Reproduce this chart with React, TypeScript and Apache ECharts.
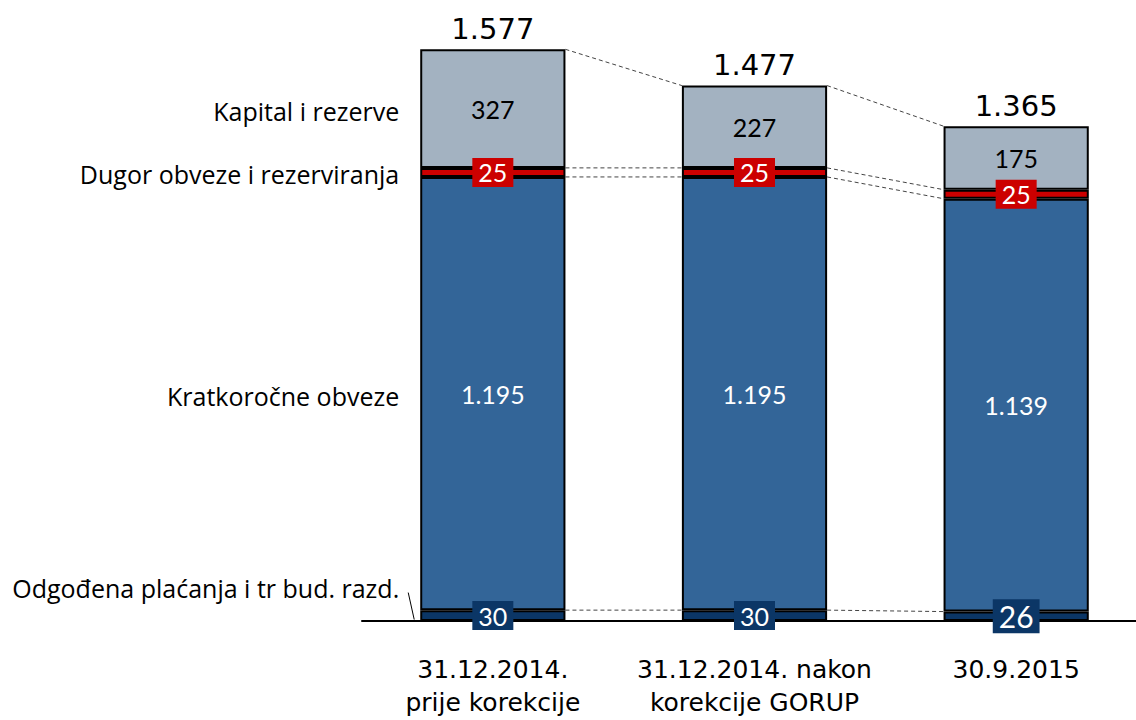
import React, { useEffect, useRef } from "react";
import * as echarts from "echarts";

const categories = ["31.12.2014.\nprije korekcije", "31.12.2014. nakon\nkorekcije GORUP", "30.9.2015"];
const odgodena = [30, 30, 26];
const kratkorocne = [1195, 1195, 1139];
const dugorocne = [25, 25, 25];
const kapital = [327, 227, 175];
const totals = [1577, 1477, 1365];
const seriesNames = [
  "Odgođena plaćanja i tr bud. razd.",
  "Kratkoročne obveze",
  "Dugor obveze i rezerviranja",
  "Kapital i rezerve",
];

const BAR_W = 0.555;
const NUM_FONT = "Lato";
const NAME_FONT = "Open Sans";
const HEAD_FONT = "DejaVu Sans";

const fmt = (v: number) => String(v).replace(/\B(?=(\d{3})+(?!\d))/g, ".");

export default function App() {
  const ref = useRef<HTMLDivElement>(null);
  useEffect(() => {
    document.body.style.margin = "0";
    const chart = echarts.init(ref.current!, undefined, { renderer: "svg" });
    const stacks = [odgodena, kratkorocne, dugorocne, kapital];
    const levels: number[][] = [];
    let acc = [0, 0, 0];
    stacks.forEach((s) => {
      acc = acc.map((a, i) => a + s[i]);
      levels.push(acc.slice());
    });
    const connectorData: number[][] = [];
    levels.forEach((L) => {
      for (let i = 0; i < 2; i++) connectorData.push([i, L[i], L[i + 1]]);
    });
    const nameData: number[][] = stacks.map((s, k) => {
      const base = k === 0 ? 0 : levels[k - 1][0];
      return [0, base + s[0] / 2, k];
    });

    const barBase = {
      type: "bar",
      stack: "a",
      barWidth: BAR_W * 100 + "%",
    };
    const option: any = {
      animation: false,
      grid: { left: 362, right: -11, top: 41, bottom: 99, outerBoundsMode: "none", containLabel: false },
      xAxis: {
        type: "category",
        data: categories,
        axisLine: { lineStyle: { color: "#000", width: 2 } },
        axisTick: { show: false },
        axisLabel: {
          fontSize: 25,
          fontFamily: HEAD_FONT,
          color: "#000",
          lineHeight: 33,
          margin: 32,
          interval: 0,
        },
      },
      yAxis: { type: "value", min: 0, max: 1600, show: false, splitLine: { show: false } },
      series: [
        {
          ...barBase,
          name: seriesNames[0],
          data: odgodena.map((v, i) =>
            i === 2
              ? { value: v, label: { fontSize: 30, padding: [3, 6, 1, 6] } }
              : v
          ),
          itemStyle: { color: "#0b3666", borderColor: "#000", borderWidth: 2 },
          label: {
            show: true,
            position: "inside",
            color: "#fff",
            fontSize: 25,
            fontFamily: NUM_FONT,
            backgroundColor: "#0b3666",
            padding: [3, 6, 1, 6],
            formatter: (p: any) => fmt(p.value),
          },
          z: 3,
        },
        {
          ...barBase,
          name: seriesNames[1],
          data: kratkorocne,
          itemStyle: { color: "#336598", borderColor: "#000", borderWidth: 2 },
          label: {
            show: true,
            position: "inside",
            color: "#fff",
            fontSize: 25,
            fontFamily: NUM_FONT,
            formatter: (p: any) => fmt(p.value),
          },
        },
        {
          ...barBase,
          name: seriesNames[2],
          data: dugorocne,
          itemStyle: { color: "#cc0000", borderColor: "#000", borderWidth: 2 },
          label: {
            show: true,
            position: "inside",
            color: "#fff",
            fontSize: 25,
            fontFamily: NUM_FONT,
            backgroundColor: "#cc0000",
            padding: [3, 6, 1, 6],
            formatter: (p: any) => fmt(p.value),
          },
          z: 3,
        },
        {
          ...barBase,
          name: seriesNames[3],
          data: kapital,
          itemStyle: { color: "#a3b2c1", borderColor: "#000", borderWidth: 2 },
          label: {
            show: true,
            position: "inside",
            color: "#000",
            fontSize: 25,
            fontFamily: NUM_FONT,
            formatter: (p: any) => fmt(p.value),
          },
        },
        {
          ...barBase,
          name: "Ukupno",
          data: totals.map(() => 0),
          itemStyle: { color: "transparent", borderWidth: 0 },
          label: {
            show: true,
            position: "top",
            distance: 6,
            color: "#000",
            fontSize: 29,
            fontFamily: HEAD_FONT,
            formatter: (p: any) => fmt(totals[p.dataIndex]),
          },
        },
        {
          type: "custom",
          name: "connectors",
          data: connectorData,
          encode: { x: 0, y: 1 },
          z: 1,
          renderItem: (params: any, api: any) => {
            const i = api.value(0);
            const a = api.coord([i, api.value(1)]);
            const b = api.coord([i + 1, api.value(2)]);
            const half = (api.size([1, 0])[0] * BAR_W) / 2;
            return {
              type: "line",
              shape: { x1: a[0] + half, y1: a[1], x2: b[0] - half, y2: b[1] },
              style: { stroke: "#444", lineWidth: 1, lineDash: [4, 3], fill: null },
            };
          },
        },
        {
          type: "custom",
          name: "names",
          data: nameData,
          encode: { x: 0, y: 1 },
          z: 4,
          renderItem: (params: any, api: any) => {
            const k = api.value(2);
            const p = api.coord([api.value(0), api.value(1)]);
            const half = (api.size([1, 0])[0] * BAR_W) / 2;
            const left = p[0] - half;
            const dy = k === 0 ? -28 : 2;
            const children: any[] = [
              {
                type: "text",
                x: left - 21,
                y: p[1] + dy,
                style: {
                  text: seriesNames[k],
                  fill: "#000",
                  fontSize: 25,
                  fontFamily: NAME_FONT,
                  align: "right",
                  verticalAlign: "middle",
                  textAlign: "right",
                  textVerticalAlign: "middle",
                },
              },
            ];
            if (k === 0) {
              children.push({
                type: "line",
                shape: { x1: left - 12, y1: p[1] - 23, x2: left - 6, y2: p[1] + 4 },
                style: { stroke: "#000", lineWidth: 1 },
              });
            }
            return { type: "group", children };
          },
        },
      ],
    };
    chart.setOption(option);
    return () => chart.dispose();
  }, []);
  return <div ref={ref} style={{ width: 1136, height: 720 }} />;
}
